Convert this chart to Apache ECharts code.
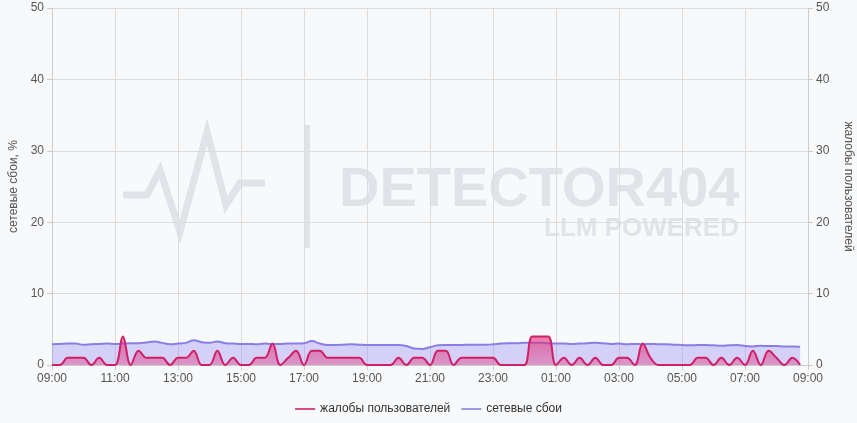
<!DOCTYPE html>
<html>
<head>
<meta charset="utf-8">
<script src="https://cdn.jsdelivr.net/npm/echarts@6/dist/echarts.min.js"></script>
<style>
html,body{margin:0;padding:0;background:#f8f9fb;}
#c{width:857px;height:423px;}
</style>
</head>
<body>
<div id="c"></div>
<script>
var categories = [
"09:00","09:15","09:30","09:45","10:00","10:15","10:30","10:45",
"11:00","11:15","11:30","11:45","12:00","12:15","12:30","12:45",
"13:00","13:15","13:30","13:45","14:00","14:15","14:30","14:45",
"15:00","15:15","15:30","15:45","16:00","16:15","16:30","16:45",
"17:00","17:15","17:30","17:45","18:00","18:15","18:30","18:45",
"19:00","19:15","19:30","19:45","20:00","20:15","20:30","20:45",
"21:00","21:15","21:30","21:45","22:00","22:15","22:30","22:45",
"23:00","23:15","23:30","23:45","00:00","00:15","00:30","00:45",
"01:00","01:15","01:30","01:45","02:00","02:15","02:30","02:45",
"03:00","03:15","03:30","03:45","04:00","04:15","04:30","04:45",
"05:00","05:15","05:30","05:45","06:00","06:15","06:30","06:45",
"07:00","07:15","07:30","07:45","08:00","08:15","08:30","08:45",
"09:00"
];

var complaints = [
0,0,1,1,1,0,1,0,
0,4,0,2,1,1,1,0,
1,1,2,0,0,2,0,1,
0,0,1,1,3,0,1,2,
0,2,2,1,1,1,1,1,
0,0,0,0,1,0,1,1,
0,2,2,0,1,1,1,1,
1,0,0,0,0,4,4,4,
0,1,0,1,0,1,0,0,
1,1,0,3,1,0,0,0,
0,0,1,1,0,1,0,1,
0,2,0,2,1,0,1,0
];

var failures = [
2.9,2.95,3.0,3.0,2.85,2.9,2.95,3.0,
2.95,3.0,3.05,3.05,3.15,3.3,3.1,2.9,
3.0,3.1,3.45,3.2,3.1,3.3,3.05,3.0,
2.95,2.95,2.9,3.0,2.95,2.95,3.0,3.0,
3.05,3.35,3.0,2.8,2.8,2.85,2.9,2.85,
2.8,2.8,2.8,2.8,2.8,2.65,2.3,2.25,
2.5,2.75,2.8,2.8,2.8,2.85,2.85,2.85,
2.9,3.0,3.05,3.05,3.1,3.1,3.1,3.05,
3.0,3.0,2.95,3.0,3.05,3.1,3.05,2.95,
3.0,2.9,2.95,2.9,2.95,2.9,2.9,2.85,
2.8,2.75,2.8,2.8,2.75,2.7,2.75,2.8,
2.65,2.6,2.7,2.65,2.65,2.6,2.6,2.55
];

var seriesNames = ["жалобы пользователей", "сетевые сбои"];
var leftAxisName = "сетевые сбои, %";
var rightAxisName = "жалобы пользователей";

var FONT = "'Liberation Sans', Arial, sans-serif";
var chart = echarts.init(document.getElementById('c'), null, {renderer:'canvas'});

var wm = '#e0e3e8';
var option = {
  backgroundColor: '#f8f9fb',
  animation: false,
  textStyle: {fontFamily: FONT},
  grid: {left: 52, right: 49, top: 8, bottom: 58, containLabel: false, outerBoundsMode: 'none'},
  graphic: [
    {type:'polyline', z:0, silent:true,
     shape:{points:[[123,195],[147,195],[160,170],[180,232],[207,132],[226,205],[240,183],[265,183]]},
     style:{stroke:wm, lineWidth:7, fill:null, lineJoin:'miter'}},
    {type:'rect', z:0, silent:true, shape:{x:305, y:125, width:5, height:123}, style:{fill:wm}},
    {type:'text', z:0, silent:true, left:339, top:163,
     style:{text:'DETECTOR404', fill:wm, font:"bold 56px 'Liberation Sans', Arial, sans-serif"}},
    {type:'text', z:0, silent:true, left:544, top:216,
     style:{text:'LLM POWERED', fill:wm, font:"bold 26px 'Liberation Sans', Arial, sans-serif"}}
  ],
  legend: {
    bottom: 3, left: 'center',
    itemWidth: 20, itemHeight: 14, itemGap: 11,
    textStyle: {color:'#333', fontSize:12, fontFamily: FONT},
    data: [
      {name: seriesNames[0], icon: 'path://M0,6L25,6L25,8L0,8Z'},
      {name: seriesNames[1], icon: 'path://M0,6L25,6L25,8L0,8Z'}
    ]
  },
  xAxis: {
    type: 'category',
    data: categories,
    boundaryGap: false,
    axisLine: {show:true, lineStyle:{color:'#ccc'}},
    axisTick: {show:true, interval:7, lineStyle:{color:'#ccc'}},
    axisLabel: {interval:7, color:'#555', fontSize:12, margin:8, fontFamily: FONT},
    splitLine: {show:true, interval:7, lineStyle:{color:'#ddd'}}
  },
  yAxis: [
    {type:'value', min:0, max:50, interval:10, position:'left',
     name: leftAxisName, nameLocation:'middle', nameGap:31,
     nameTextStyle:{color:'#555', fontSize:12, fontFamily: FONT},
     axisLine:{show:true, lineStyle:{color:'#ccc'}},
     axisTick:{show:true, lineStyle:{color:'#ccc'}},
     axisLabel:{color:'#555', fontSize:12, fontFamily: FONT},
     splitLine:{show:true, lineStyle:{color:'#ddd'}}},
    {type:'value', min:0, max:50, interval:10, position:'right',
     name: rightAxisName, nameLocation:'middle', nameGap:34, nameRotate:-90,
     nameTextStyle:{color:'#555', fontSize:12, fontFamily: FONT},
     axisLine:{show:true, lineStyle:{color:'#ccc'}},
     axisTick:{show:true, lineStyle:{color:'#ccc'}},
     axisLabel:{color:'#555', fontSize:12, fontFamily: FONT},
     splitLine:{show:false}}
  ],
  series: [
    {name: seriesNames[1], type:'line', yAxisIndex:0, data: failures,
     smooth: 0.4, symbol:'none', z:2,
     lineStyle:{color:'#8c7de6', width:2},
     itemStyle:{color:'#8c7de6'},
     areaStyle:{color:'rgba(140,120,240,0.45)'}},
    {name: seriesNames[0], type:'line', yAxisIndex:1, data: complaints,
     smooth: 0.4, symbol:'none', z:3,
     lineStyle:{color:'#cf1f66', width:2},
     itemStyle:{color:'#cf1f66'},
     areaStyle:{color:{type:'linear', x:0, y:0, x2:0, y2:1, colorStops:[
       {offset:0, color:'rgba(225,45,120,0.9)'},
       {offset:1, color:'rgba(225,45,120,0.5)'}]}}}
  ]
};
chart.setOption(option);
</script>
</body>
</html>
